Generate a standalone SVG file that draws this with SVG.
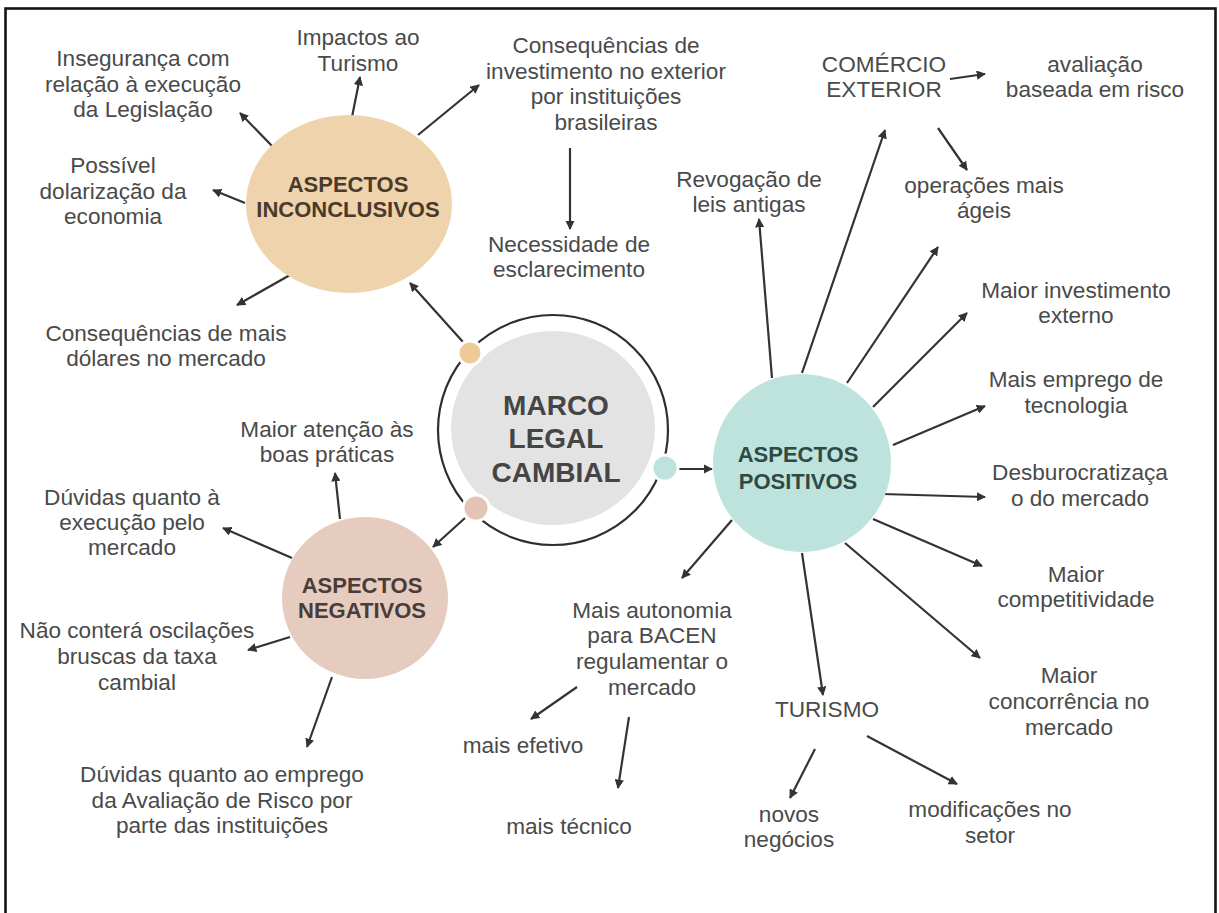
<svg xmlns="http://www.w3.org/2000/svg" width="1219" height="913" viewBox="0 0 1219 913">
<style>
.lbl{font-family:"Liberation Sans",Arial,sans-serif;font-size:22.6px;fill:#4a4a4a;text-anchor:middle}
.hd{font-family:"Liberation Sans",Arial,sans-serif;font-size:22px;font-weight:bold;text-anchor:middle}
.ln{stroke:#333;stroke-width:2.2;fill:none;marker-end:url(#ah)}
</style>
<defs>
<marker id="ah" viewBox="0 0 10 10" refX="9" refY="5" markerWidth="4.2" markerHeight="4.2" orient="auto" markerUnits="strokeWidth">
<path d="M0,0 L10,5 L0,10 z" fill="#333"/>
</marker>
</defs>
<rect x="0" y="0" width="1219" height="913" fill="#fff"/>
<rect x="5.5" y="8.5" width="1210" height="915" fill="none" stroke="#151515" stroke-width="2.6"/>

<g id="connectors">
<line class="ln" x1="463" y1="342" x2="410" y2="283"/>
<line class="ln" x1="465" y1="518" x2="433" y2="547"/>
<line class="ln" x1="678" y1="469" x2="712" y2="469"/>
<line class="ln" x1="273" y1="147" x2="240" y2="113"/>
<line class="ln" x1="352" y1="117" x2="360" y2="77"/>
<line class="ln" x1="245" y1="203" x2="213" y2="190"/>
<line class="ln" x1="290" y1="275" x2="237" y2="305"/>
<line class="ln" x1="418" y1="135" x2="479" y2="85"/>
<line class="ln" x1="570" y1="148" x2="570" y2="229"/>
<line class="ln" x1="340" y1="519" x2="335" y2="473"/>
<line class="ln" x1="292" y1="558" x2="223" y2="528"/>
<line class="ln" x1="290" y1="637" x2="248" y2="650"/>
<line class="ln" x1="332" y1="677" x2="307" y2="747"/>
<line class="ln" x1="772" y1="378" x2="759" y2="219"/>
<line class="ln" x1="802" y1="373" x2="885" y2="130"/>
<line class="ln" x1="847" y1="383" x2="938" y2="247"/>
<line class="ln" x1="873" y1="407" x2="967" y2="313"/>
<line class="ln" x1="893" y1="445" x2="985" y2="406"/>
<line class="ln" x1="882" y1="494" x2="985" y2="497"/>
<line class="ln" x1="873" y1="519" x2="982" y2="566"/>
<line class="ln" x1="845" y1="543" x2="980" y2="658"/>
<line class="ln" x1="802" y1="553" x2="823" y2="695"/>
<line class="ln" x1="732" y1="520" x2="682" y2="578"/>
<line class="ln" x1="950" y1="79" x2="985" y2="74"/>
<line class="ln" x1="938" y1="128" x2="967" y2="170"/>
<line class="ln" x1="577" y1="687" x2="531" y2="719"/>
<line class="ln" x1="629" y1="717" x2="618" y2="788"/>
<line class="ln" x1="815" y1="749" x2="790" y2="798"/>
<line class="ln" x1="867" y1="736" x2="957" y2="784"/>
</g>

<g id="marco-legal-cambial">
<circle cx="553" cy="430" r="115" fill="none" stroke="#2e2e2e" stroke-width="2.2"/>
<ellipse cx="553" cy="428" rx="102" ry="97" fill="#e3e3e3"/>
<circle cx="470" cy="353" r="12" fill="#eccb98" stroke="#fff" stroke-width="3"/>
<circle cx="476" cy="508" r="13" fill="#e5c3b5" stroke="#fff" stroke-width="3"/>
<circle cx="665" cy="468" r="13" fill="#bde3dc" stroke="#fff" stroke-width="3"/>
<text class="hd" style="font-size:28px;fill:#454545"><tspan x="556" y="415">MARCO</tspan><tspan x="556" y="448">LEGAL</tspan><tspan x="556" y="482">CAMBIAL</tspan></text>
</g>

<g id="aspectos-inconclusivos">
<ellipse cx="349" cy="204" rx="103" ry="89" fill="#eed3ad"/>
<text class="hd" style="fill:#4a3a2a"><tspan x="348" y="192">ASPECTOS</tspan><tspan x="348" y="217">INCONCLUSIVOS</tspan></text>
</g>

<g id="aspectos-negativos">
<ellipse cx="365" cy="598" rx="83" ry="81" fill="#e6cbbf"/>
<text class="hd" style="fill:#4a3c38"><tspan x="362" y="593">ASPECTOS</tspan><tspan x="362" y="618">NEGATIVOS</tspan></text>
</g>

<g id="aspectos-positivos">
<circle cx="802" cy="463" r="89" fill="#bee3dc"/>
<text class="hd" style="fill:#2f4945"><tspan x="798" y="462">ASPECTOS</tspan><tspan x="798" y="489">POSITIVOS</tspan></text>
</g>

<g id="inseguranca"><text class="lbl"><tspan x="143" y="66">Insegurança com</tspan><tspan x="143" y="92">relação à execução</tspan><tspan x="143" y="117">da Legislação</tspan></text></g>
<g id="impactos"><text class="lbl"><tspan x="358" y="45">Impactos ao</tspan><tspan x="358" y="71">Turismo</tspan></text></g>
<g id="possivel"><text class="lbl"><tspan x="113" y="173">Possível</tspan><tspan x="113" y="199">dolarização da</tspan><tspan x="113" y="224">economia</tspan></text></g>
<g id="consequencias-dolares"><text class="lbl"><tspan x="166" y="341">Consequências de mais</tspan><tspan x="166" y="366">dólares no mercado</tspan></text></g>
<g id="consequencias-investimento"><text class="lbl"><tspan x="606" y="53">Consequências de</tspan><tspan x="606" y="79">investimento no exterior</tspan><tspan x="606" y="104">por instituições</tspan><tspan x="606" y="130">brasileiras</tspan></text></g>
<g id="necessidade"><text class="lbl"><tspan x="569" y="252">Necessidade de</tspan><tspan x="569" y="277">esclarecimento</tspan></text></g>
<g id="revogacao"><text class="lbl"><tspan x="749" y="187">Revogação de</tspan><tspan x="749" y="212">leis antigas</tspan></text></g>
<g id="comercio"><text class="lbl"><tspan x="884" y="72">COMÉRCIO</tspan><tspan x="884" y="97">EXTERIOR</tspan></text></g>
<g id="avaliacao"><text class="lbl"><tspan x="1095" y="72">avaliação</tspan><tspan x="1095" y="97">baseada em risco</tspan></text></g>
<g id="operacoes"><text class="lbl"><tspan x="984" y="193">operações mais</tspan><tspan x="984" y="218">ágeis</tspan></text></g>
<g id="investimento-externo"><text class="lbl"><tspan x="1076" y="298">Maior investimento</tspan><tspan x="1076" y="323">externo</tspan></text></g>
<g id="tecnologia"><text class="lbl"><tspan x="1076" y="387">Mais emprego de</tspan><tspan x="1076" y="413">tecnologia</tspan></text></g>
<g id="desburocratizacao"><text class="lbl"><tspan x="1080" y="480">Desburocratizaça</tspan><tspan x="1080" y="506">o do mercado</tspan></text></g>
<g id="competitividade"><text class="lbl"><tspan x="1076" y="582">Maior</tspan><tspan x="1076" y="607">competitividade</tspan></text></g>
<g id="concorrencia"><text class="lbl"><tspan x="1069" y="683">Maior</tspan><tspan x="1069" y="709">concorrência no</tspan><tspan x="1069" y="735">mercado</tspan></text></g>
<g id="turismo"><text class="lbl"><tspan x="827" y="717">TURISMO</tspan></text></g>
<g id="modificacoes"><text class="lbl"><tspan x="990" y="817">modificações no</tspan><tspan x="990" y="843">setor</tspan></text></g>
<g id="novos-negocios"><text class="lbl"><tspan x="789" y="822">novos</tspan><tspan x="789" y="847">negócios</tspan></text></g>
<g id="mais-tecnico"><text class="lbl"><tspan x="569" y="834">mais técnico</tspan></text></g>
<g id="mais-efetivo"><text class="lbl"><tspan x="523" y="753">mais efetivo</tspan></text></g>
<g id="autonomia"><text class="lbl"><tspan x="652" y="618">Mais autonomia</tspan><tspan x="652" y="643">para BACEN</tspan><tspan x="652" y="669">regulamentar o</tspan><tspan x="652" y="695">mercado</tspan></text></g>
<g id="boas-praticas"><text class="lbl"><tspan x="327" y="437">Maior atenção às</tspan><tspan x="327" y="462">boas práticas</tspan></text></g>
<g id="duvidas-execucao"><text class="lbl"><tspan x="132" y="505">Dúvidas quanto à</tspan><tspan x="132" y="530">execução pelo</tspan><tspan x="132" y="555">mercado</tspan></text></g>
<g id="oscilacoes"><text class="lbl"><tspan x="137" y="638">Não conterá oscilações</tspan><tspan x="137" y="664">bruscas da taxa</tspan><tspan x="137" y="690">cambial</tspan></text></g>
<g id="duvidas-avaliacao"><text class="lbl"><tspan x="222" y="782">Dúvidas quanto ao emprego</tspan><tspan x="222" y="808">da Avaliação de Risco por</tspan><tspan x="222" y="833">parte das instituições</tspan></text></g>
</svg>
